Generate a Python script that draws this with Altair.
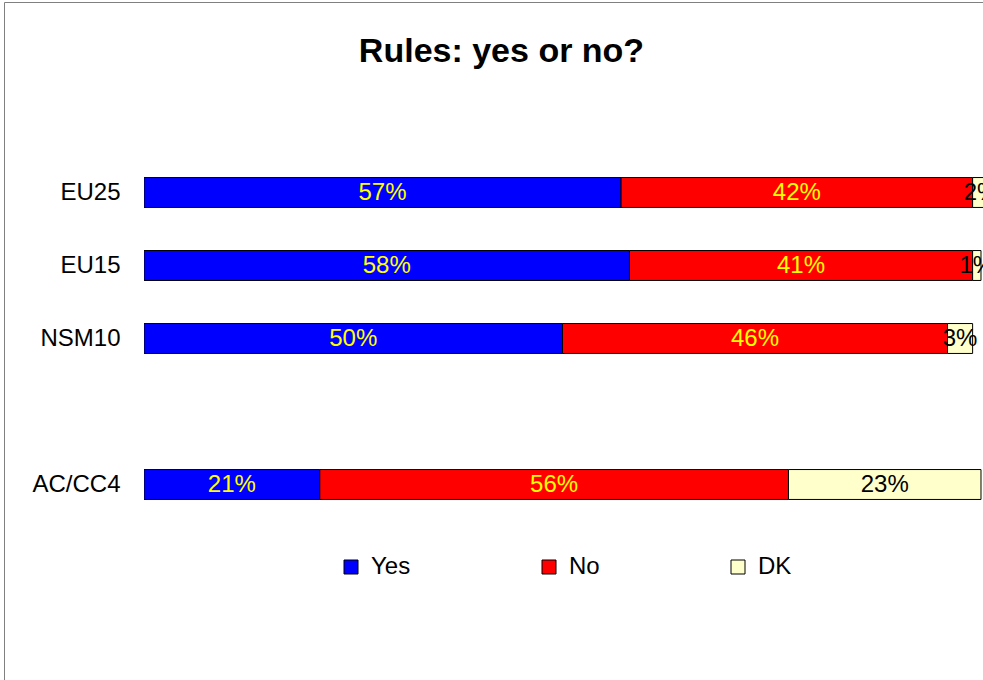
import altair as alt
import pandas as pd

# ---- data ----
categories = ["EU25", "EU15", "NSM10", "AC/CC4"]
responses = ["Yes", "No", "DK"]
yes_vals = [57, 58, 50, 21]
no_vals = [42, 41, 46, 56]
dk_vals = [2, 1, 3, 23]
y_domain = ["EU25", "EU15", "NSM10", " ", "AC/CC4"]
colors = ["#0000FF", "#FF0000", "#FFFFCC"]

rows = []
for i, c in enumerate(categories):
    for j, (r, vals) in enumerate(zip(responses, [yes_vals, no_vals, dk_vals])):
        rows.append({"cat": c, "resp": r, "order": j, "value": vals[i],
                     "label": f"{vals[i]}%"})
df = pd.DataFrame(rows)

FONT = "Liberation Sans"
W, H = 839, 365

base = alt.Chart(df).transform_stack(
    stack="value", as_=["x0", "x1"], groupby=["cat"],
    sort=[alt.SortField("order", order="ascending")]
).transform_calculate(xm="(datum.x0 + datum.x1) / 2")

xscale = alt.Scale(domain=[0, 100.24], nice=False, zero=False)
yscale = alt.Scale(domain=y_domain, paddingInner=0.59, paddingOuter=0.295)
yaxis = alt.Axis(domain=False, ticks=False, labelPadding=24,
                 labelFont=FONT, labelFontSize=24, labelColor="black",
                 grid=False)

bars = base.mark_bar(stroke="black", strokeWidth=1, clip=True).encode(
    x=alt.X("x0:Q", scale=xscale, axis=None),
    x2="x1:Q",
    y=alt.Y("cat:N", scale=yscale, title=None, axis=yaxis),
    color=alt.Color("resp:N", scale=alt.Scale(domain=responses, range=colors),
                    legend=alt.Legend(orient="none", legendX=195, legendY=399,
                                      direction="horizontal", title=None,
                                      symbolType="square", symbolSize=196,
                                      symbolStrokeColor="black", symbolStrokeWidth=1,
                                      labelFont=FONT, labelFontSize=24,
                                      labelColor="black",
                                      columnPadding=126, labelOffset=8)),
)

labels = base.mark_text(font=FONT, fontSize=24, clip=True).encode(
    x=alt.X("xm:Q", scale=xscale, axis=None),
    y=alt.Y("cat:N", scale=yscale, title=None, axis=yaxis),
    text="label:N",
    color=alt.condition("datum.resp == 'DK'", alt.value("black"), alt.value("#FFFF00")),
)

frame = alt.Chart(pd.DataFrame({"a": [0]})).mark_rect(
    fill="transparent", stroke="#808080", strokeWidth=1
).encode(
    x=alt.value(-139.5), x2=alt.value(W + 50),
    y=alt.value(-153.5), y2=alt.value(H + 200),
)

chart = alt.layer(frame, bars, labels).properties(
    width=W, height=H,
    title=alt.TitleParams("Rules: yes or no?", font=FONT, fontSize=34,
                          fontWeight="bold", anchor="middle", dx=-62, dy=71,
                          color="black"),
    autosize=alt.AutoSizeParams(type="none"),
    padding={"left": 144, "top": 156, "right": 0, "bottom": 159},
).configure(background="white").configure_view(strokeWidth=0)

chart.save("out.html", embed_options={"renderer": "svg", "actions": False})
